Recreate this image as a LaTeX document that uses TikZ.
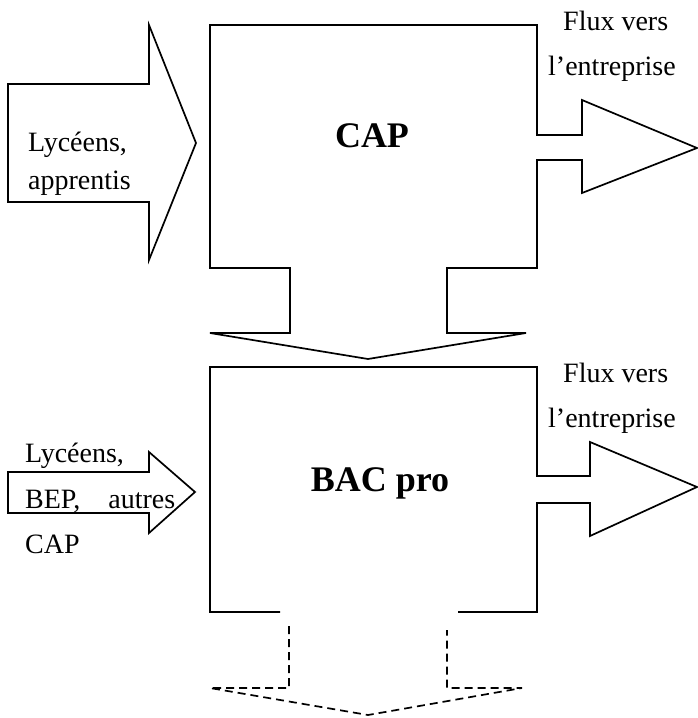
\documentclass[tikz,border=0pt]{standalone}
\usepackage{fontspec}
\setmainfont{Liberation Serif}
\begin{document}
\begin{tikzpicture}[x=1pt,y=-1pt,
  shape line/.style={draw=black,line width=1.7pt,line join=miter},
  dash line/.style={draw=black,line width=1.7pt,dash pattern=on 8pt off 5pt},
  lbl/.style={inner sep=0pt,anchor=base west,font=\fontsize{28}{32}\selectfont},
  big/.style={inner sep=0pt,anchor=base,font=\fontsize{36}{40}\selectfont\bfseries}]
\useasboundingbox (0,0) rectangle (697,718);
% CAP block with its right and down arrows
\draw[shape line] (290,268) -- (210,268) -- (210,25) -- (537,25) -- (537,135) -- (582,135)
  -- (582,100) -- (697,148) -- (582,193) -- (582,160) -- (537,160) -- (537,268)
  -- (447,268) -- (447,333) -- (526,333) -- (368,359) -- (210,333) -- (290,333) -- cycle;
% BAC pro block
\draw[shape line] (280,612) -- (210,612) -- (210,367) -- (537,367) -- (537,476) -- (590,476)
  -- (590,442) -- (697,487) -- (590,536) -- (590,503) -- (537,503) -- (537,612) -- (458,612);
% dashed down arrow
\draw[dash line] (289,626) -- (289,688) -- (210,688) -- (368,715) -- (522,688) -- (447,688) -- (447,630);
% left input arrows
\draw[shape line] (8,84) -- (149,84) -- (149,25) -- (196,143) -- (149,260) -- (149,202) -- (8,202) -- cycle;
\draw[shape line] (8,472) -- (149,472) -- (149,452) -- (195,492) -- (149,533) -- (149,513) -- (8,513) -- cycle;
% texts
\node[big] (cap) at (372,147) {CAP};
\node[big] (bac) at (380,491) {BAC pro};
\node[lbl] (in1a) at (28,151) {Lycéens,};
\node[lbl] (in1b) at (28,189) {apprentis};
\node[lbl] (in2a) at (25,462) {Lycéens,};
\node[lbl] (in2b) at (25,508) {\makebox[150pt][l]{BEP,\hfill autres}};
\node[lbl] (in2c) at (25,553) {CAP};
\node[lbl] (out1a) at (563,30) {Flux vers};
\node[lbl] (out1b) at (548,75) {l’entreprise};
\node[lbl] (out2a) at (563,382) {Flux vers};
\node[lbl] (out2b) at (548,427) {l’entreprise};
\end{tikzpicture}
\end{document}
